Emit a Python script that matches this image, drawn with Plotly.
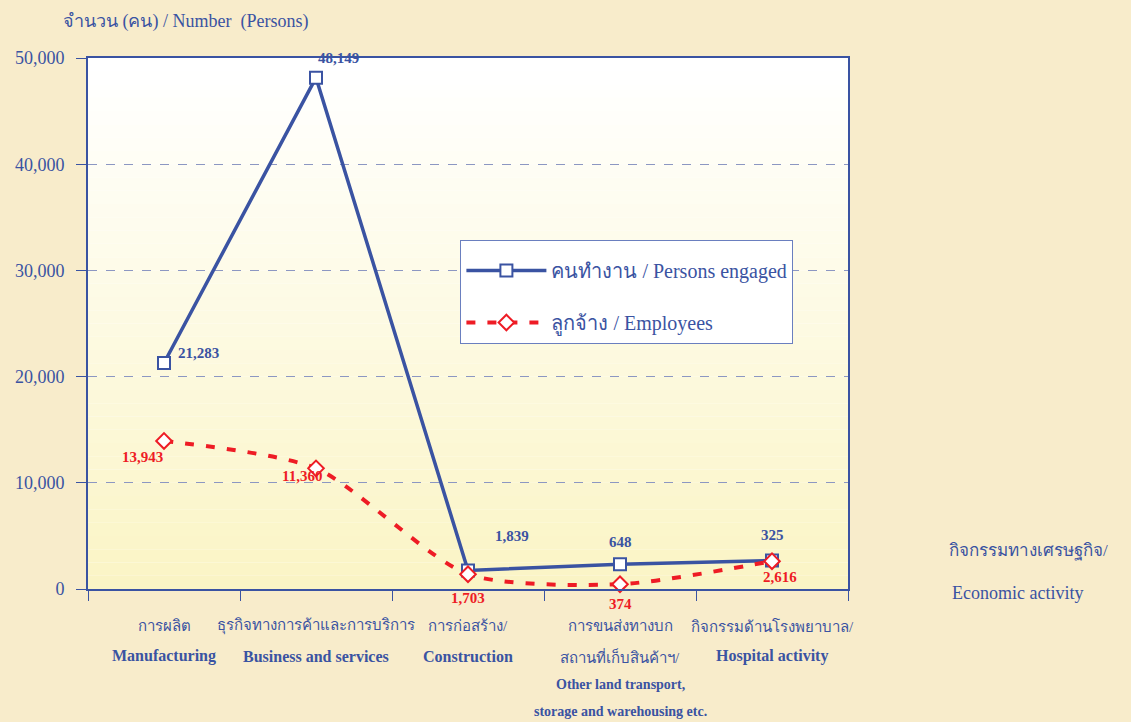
import plotly.graph_objects as go

# categories (x positions) and label lines
categories = ["Manufacturing", "Business and services", "Construction", "Transport", "Hospital"]
cat_thai = ["การผลิต", "ธุรกิจทางการค้าและการบริการ", "การก่อสร้าง/", "การขนส่งทางบก", "กิจกรรมด้านโรงพยาบาล/"]
cat_eng = ["Manufacturing", "Business and services", "Construction", "สถานที่เก็บสินค้าฯ/", "Hospital activity"]
cat_extra = ["Other land transport,", "storage and warehousing etc."]

# series values as plotted in the picture
persons_engaged = [21283, 48149, 1750, 2330, 2680]
employees = [13943, 11360, 1390, 450, 2620]

# data labels as printed on the chart
persons_labels = ["21,283", "48,149", "1,839", "648", "325"]
employees_labels = ["13,943", "11,360", "1,703", "374", "2,616"]

BLUE = "#3a53a2"
RED = "#ee1c25"
FONT = "Liberation Serif"

fig = go.Figure()

fig.add_trace(go.Scatter(
    x=categories, y=persons_engaged, mode="lines+markers",
    name="คนทำงาน / Persons engaged", legendgroup="a",
    line=dict(color=BLUE, width=3.5),
    marker=dict(symbol="square", size=12, color="white", line=dict(color=BLUE, width=2)),
    cliponaxis=False,
))
fig.add_trace(go.Scatter(
    x=categories, y=employees, mode="lines+markers",
    name="ลูกจ้าง / Employees", legendgroup="b",
    line=dict(color=RED, width=4, dash="9px,12px", shape="spline", smoothing=0.7),
    marker=dict(symbol="diamond", size=12, color="white", line=dict(color=RED, width=2)),
    cliponaxis=False,
))

# plot area gradient: white at top to pale yellow at bottom
shapes = []
n = 40
for i in range(n):
    t = i / (n - 1)
    r = 255 - int(5 * t)
    g = 255 - int(11 * t)
    b = 255 - int(58 * t)
    shapes.append(dict(type="rect", xref="x domain", yref="y domain",
                       x0=0, x1=1, y0=1 - (i + 1) / n, y1=1 - i / n,
                       fillcolor=f"rgb({r},{g},{b})", line=dict(width=0), layer="below"))

annotations = []
# point labels (offsets in pixels)
p_off = [(34, 10), (22, 20), (44, 34), (0, 22), (0, 26)]
e_off = [(-22, -16), (-14, -8), (0, -24), (0, -20), (8, -16)]
for i, c in enumerate(categories):
    annotations.append(dict(x=c, y=persons_engaged[i], text=f"<b>{persons_labels[i]}</b>",
                            showarrow=False, xshift=p_off[i][0], yshift=p_off[i][1],
                            font=dict(family=FONT, size=15, color=BLUE)))
    annotations.append(dict(x=c, y=employees[i], text=f"<b>{employees_labels[i]}</b>",
                            showarrow=False, xshift=e_off[i][0], yshift=e_off[i][1],
                            font=dict(family=FONT, size=15, color=RED)))

# category labels under the axis
for i, c in enumerate(categories):
    annotations.append(dict(x=c, y=0, yref="y", text=cat_thai[i], showarrow=False,
                            yshift=-37, font=dict(family=FONT, size=15, color=BLUE)))
    eng = cat_eng[i] if i == 3 else f"<b>{cat_eng[i]}</b>"
    annotations.append(dict(x=c, y=0, yref="y", text=eng, showarrow=False,
                            yshift=-67, font=dict(family=FONT, size=15 if i == 3 else 16, color=BLUE)))
annotations.append(dict(x=categories[3], y=0, text=f"<b>{cat_extra[0]}</b>", showarrow=False,
                        yshift=-95, font=dict(family=FONT, size=14, color=BLUE)))
annotations.append(dict(x=categories[3], y=0, text=f"<b>{cat_extra[1]}</b>", showarrow=False,
                        yshift=-122, font=dict(family=FONT, size=14, color=BLUE)))

# axis titles
annotations.append(dict(xref="paper", yref="paper", x=-0.036, y=1.0, yshift=49, xanchor="left",
                        text="จำนวน (คน) / Number  (Persons)", showarrow=False,
                        font=dict(family=FONT, size=18, color=BLUE)))
annotations.append(dict(xref="paper", yref="paper", x=1.13, y=0, yshift=26, xanchor="left",
                        text="กิจกรรมทางเศรษฐกิจ/", showarrow=False,
                        font=dict(family=FONT, size=17, color=BLUE)))
annotations.append(dict(xref="paper", yref="paper", x=1.134, y=0, yshift=-16, xanchor="left",
                        text="Economic activity", showarrow=False,
                        font=dict(family=FONT, size=18, color=BLUE)))

fig.update_layout(
    width=1131, height=722,
    margin=dict(l=88, r=283, t=58, b=133),
    paper_bgcolor="#f8eccb",
    plot_bgcolor="#ffffff",
    shapes=shapes,
    annotations=annotations,
    font=dict(family=FONT, color=BLUE),
    showlegend=True,
    legend=dict(
        x=0.49, y=0.658, xanchor="left", yanchor="top",
        bgcolor="white", bordercolor="#6a7fbf", borderwidth=1,
        font=dict(family=FONT, size=20, color=BLUE),
        title=dict(text=" ", font=dict(size=8)),
        traceorder="grouped", tracegroupgap=23, itemwidth=80,
    ),
    xaxis=dict(
        type="category", range=[-0.5, 4.5],
        showline=True, linecolor=BLUE, linewidth=2, mirror=True,
        showticklabels=False, ticks="outside", tickson="boundaries",
        ticklen=10, tickcolor=BLUE, tickwidth=1, showgrid=False,
    ),
    yaxis=dict(
        range=[0, 50000], dtick=10000, tickformat=",",
        showline=True, linecolor=BLUE, linewidth=2, mirror=True,
        ticks="outside", ticklen=10, tickcolor=BLUE, tickwidth=1,
        tickfont=dict(family=FONT, size=18, color=BLUE), ticklabelstandoff=8,
        showgrid=True, gridcolor="#8c97c2", griddash="dash", gridwidth=1,
        zeroline=False,
    ),
)

fig.write_html("out.html", config={"displayModeBar": False},
               post_script="document.body.style.margin='0';document.body.style.background='#f8eccb';")
